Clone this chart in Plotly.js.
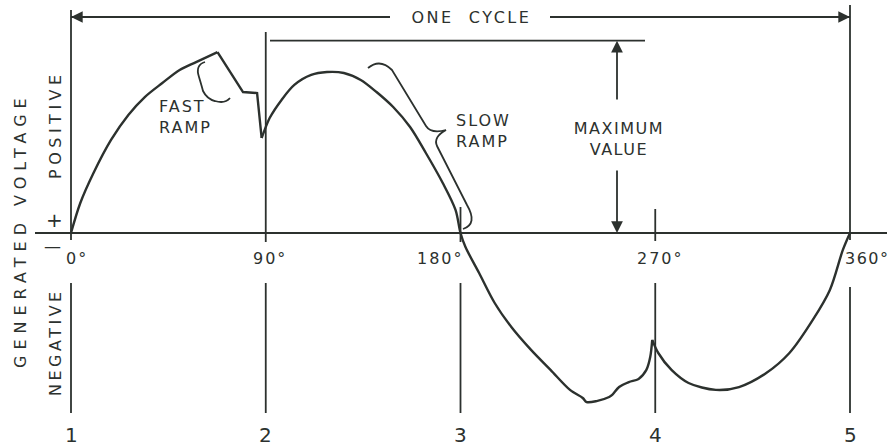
<!DOCTYPE html>
<html>
<head>
<meta charset="utf-8">
<script src="https://cdn.plot.ly/plotly-3.0.1.min.js"></script>
<style>
  html, body { margin: 0; padding: 0; background: #ffffff; }
  #chart { width: 892px; height: 446px; }
  .annotation-text { letter-spacing: 2px; }
</style>
</head>
<body>
<div id="chart"></div>
<script>
// ---- data (phase in degrees, voltage as fraction of maximum value) ----
const phaseDeg = [0, 4.3, 10.4, 18.5, 26.5, 34.1, 42.2, 50.2, 57.8, 67.7,
  79.5, 86.0, 88.1, 89.5, 91.8, 97.3, 103.2, 111.0, 118.3, 126.1, 133.9, 141.2,
  148.9, 156.7, 164.0, 171.8, 177.7, 180, 182.3, 188.6, 195.8, 203.5, 212.6,
  221.6, 230.6, 236.5, 238.3, 242.9, 248.7, 250.1, 253.3, 257.8, 262.3, 265.9,
  267.7, 268.6, 271.4, 277.5, 285.4, 298.0, 308.7, 321.3, 332.0, 342.8, 350.7,
  356.7, 360];
const voltage = [0, 0.156, 0.312, 0.484, 0.614, 0.707, 0.780, 0.848, 0.889, 0.941,
  0.733, 0.728, 0.494, 0.536, 0.598, 0.692, 0.770, 0.822, 0.837, 0.832, 0.796, 0.733,
  0.655, 0.551, 0.416, 0.260, 0.120, 0, -0.073, -0.208, -0.364, -0.489, -0.608,
  -0.712, -0.816, -0.858, -0.879, -0.874, -0.853, -0.842, -0.801, -0.775, -0.759, -0.712,
  -0.644, -0.556, -0.624, -0.712, -0.780, -0.816, -0.801, -0.728, -0.624, -0.452, -0.296,
  -0.088, 0];
const maximumValue = 1.0;
const cycleMarks = [0, 90, 180, 270, 360];
const degreeLabels = ['0°', '90°', '180°', '270°', '360°'];
const positionLabels = ['1', '2', '3', '4', '5'];

// ---- layout helpers (page geometry) ----
const INK = '#2c312e';
const FONT = 'DejaVu Sans, Liberation Sans, sans-serif';
const KX = 779 / 360, X0 = 71;      // pixel scale of the phase axis
const KY = 192.3, Y0 = 233;          // pixel scale of the voltage axis
const X = px => (px - X0) / KX;
const Y = py => (Y0 - py) / KY;

const shapes = [];
const line = (x0, y0, x1, y1, w) => shapes.push({type: 'line', xref: 'x', yref: 'y',
  x0, y0, x1, y1, line: {color: INK, width: w || 1.8}});

// zero (time) axis
line(X(35), 0, X(887), 0, 2);

// vertical reference lines at each quarter cycle
const upperTop = [10, 32, 207, 209, 5];
const upperBottom = [240, 242, 242, 241, 240];
const lowerTop = [283, 283, 283, 283, 287];
cycleMarks.forEach((m, i) => {
  line(m, Y(upperTop[i]), m, Y(upperBottom[i]));
  line(m, Y(lowerTop[i]), m, Y(413));
});

// "one cycle" dimension line
line(0, Y(17), X(390), Y(17));
line(X(550), Y(17), cycleMarks[4], Y(17));
// maximum value reference line
line(X(270), maximumValue, X(645), maximumValue);

// braces
function pathFrom(cmds) {
  return cmds.map(c => {
    const op = c[0];
    const pts = [];
    for (let k = 1; k < c.length; k += 2) pts.push(X(c[k]).toFixed(3) + ',' + Y(c[k + 1]).toFixed(4));
    return op + ' ' + pts.join(' ');
  }).join(' ');
}
shapes.push({type: 'path', xref: 'x', yref: 'y', line: {color: INK, width: 1.8},
  path: pathFrom([['M', 205, 62], ['Q', 195, 65, 199, 77], ['Q', 202, 87, 203, 91],
    ['Q', 207, 99, 215, 101], ['Q', 225, 104, 230, 98]])});
shapes.push({type: 'path', xref: 'x', yref: 'y', line: {color: INK, width: 1.8},
  path: pathFrom([['M', 368, 68], ['Q', 380, 58, 392, 70], ['L', 426, 126],
    ['Q', 431, 134, 446, 130], ['Q', 433, 137, 437, 146], ['L', 467, 205],
    ['Q', 478, 224, 463, 229]])});

// ---- annotations ----
const annotations = [];
const spacing = [];
function txt(text, px, py, opts, ls) {
  annotations.push(Object.assign({text, x: X(px), y: Y(py), xref: 'x', yref: 'y',
    showarrow: false, font: {family: FONT, size: 16, color: INK}}, opts || {}));
  spacing.push(ls == null ? 2 : ls);
}
function arrow(hx, hy, tx, ty) {
  annotations.push({text: '', x: hx, y: hy, ax: tx, ay: ty, xref: 'x', yref: 'y',
    axref: 'x', ayref: 'y', showarrow: true, arrowhead: 2, arrowsize: 1.3,
    arrowwidth: 1.8, arrowcolor: INK, standoff: 0});
  spacing.push(0);
}

txt('ONE\u00a0\u00a0CYCLE', 471, 17, {}, 2.5);
txt('FAST<br>RAMP', 157, 117, {xanchor: 'left', align: 'left'});
txt('SLOW<br>RAMP', 454, 131, {xanchor: 'left', align: 'left'});
txt('MAXIMUM<br>VALUE', 619, 139, {align: 'center'}, 1.5);
txt('GENERATED\u00a0VOLTAGE', 20, 230, {textangle: -90}, 6);
txt('POSITIVE', 55, 125, {textangle: -90}, 4.5);
txt('NEGATIVE', 55, 342, {textangle: -90}, 3.5);
txt('+', 54, 220, {font: {family: FONT, size: 20, color: INK}}, 0);
txt('\u2014', 52, 246, {font: {family: FONT, size: 17, color: INK}}, 0);

const degShift = [6, 4, -20, 5, 17];
cycleMarks.forEach((m, i) => {
  annotations.push({text: degreeLabels[i], x: m, y: Y(258), xref: 'x', yref: 'y',
    xshift: degShift[i], showarrow: false, font: {family: FONT, size: 16, color: INK}});
  spacing.push(i === 4 ? 1.5 : 2);
  annotations.push({text: positionLabels[i], x: m, y: Y(435), xref: 'x', yref: 'y',
    showarrow: false, font: {family: FONT, size: 20, color: INK}});
  spacing.push(0);
});

arrow(0, Y(17), X(390), Y(17));
arrow(cycleMarks[4], Y(17), X(550), Y(17));
arrow(X(617), maximumValue, X(617), Y(101));
arrow(X(617), 0, X(617), Y(169));

// curve drawn in pieces so the sharp corners stay sharp
const pieces = [[0, 9, 'spline'], [9, 12, 'linear'], [12, 45, 'spline'], [45, 56, 'spline']];
const traces = pieces.map(([a, b, shape]) => ({
  x: phaseDeg.slice(a, b + 1), y: voltage.slice(a, b + 1), type: 'scatter', mode: 'lines',
  line: {color: INK, width: 2.4, shape: shape, smoothing: 0.9}, hoverinfo: 'skip'
}));

const layout = {
  width: 892, height: 446,
  margin: {l: 0, r: 0, t: 0, b: 0},
  paper_bgcolor: '#ffffff', plot_bgcolor: '#ffffff',
  showlegend: false,
  xaxis: {range: [X(0), X(892)], visible: false, showgrid: false, zeroline: false},
  yaxis: {range: [Y(446), Y(0)], visible: false, showgrid: false, zeroline: false},
  shapes, annotations
};

Plotly.newPlot('chart', traces, layout, {staticPlot: true, displayModeBar: false}).then(() => {
  document.querySelectorAll('g.annotation').forEach(g => {
    const i = +g.getAttribute('data-index');
    const t = g.querySelector('.annotation-text');
    if (t && !isNaN(i)) t.style.letterSpacing = spacing[i] + 'px';
  });
});
</script>
</body>
</html>
